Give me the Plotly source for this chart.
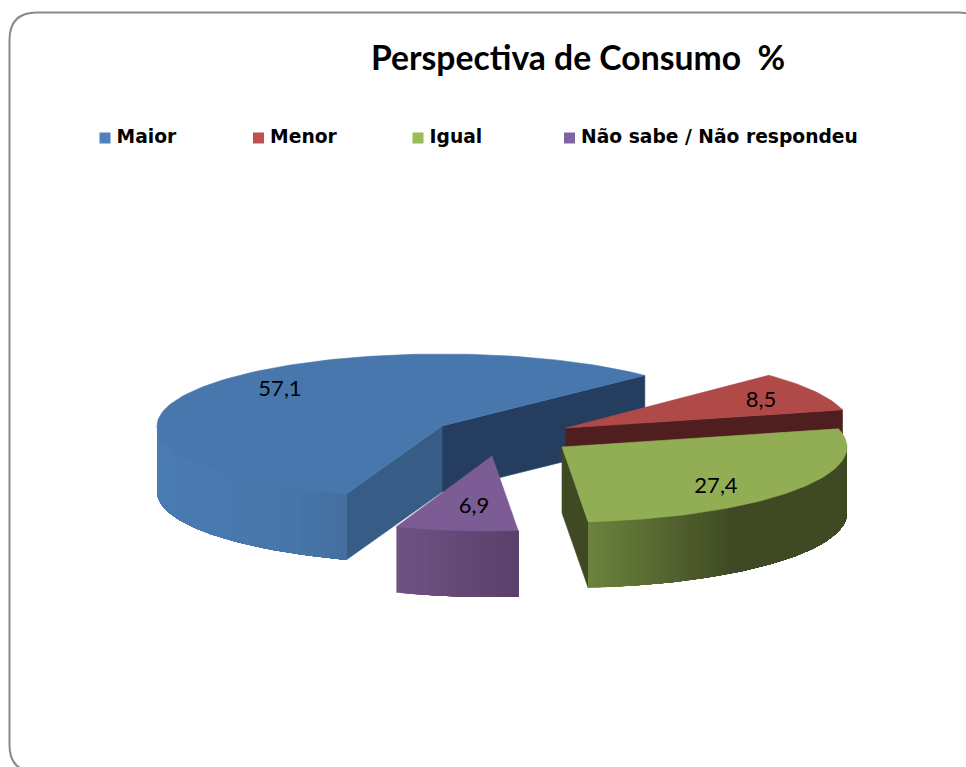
import math
import plotly.graph_objects as go

# ---- data ----
categories = ["Maior", "Menor", "Igual", "Não sabe / Não respondeu"]
values = [57.1, 8.5, 27.4, 6.9]
labels = ["57,1", "8,5", "27,4", "6,9"]
title_text = "Perspectiva de Consumo\u00a0 %"

# ---- projection of the tilted pie (axes run in page pixels) ----
W, H = 966, 767
RX, DEPTH = 285, 66
RY = [72, 75, 75, 75]
START_ANGLE = 250.4                 # where the first slice starts, clockwise
apex = [(442, 426), (566, 428), (562, 447), (492, 456)]   # exploded slice tips
label_offset = [(-162, -36), (195, -27), (154, 40), (-18, 51)]

top_col = ["#4877AE", "#B04A48", "#92AE55", "#7B5C94"]
legend_col = ["#4F81BD", "#C0504D", "#9BBB59", "#8064A2"]
side_stops = [
    [(0, "#4A7BB3"), (0.7, "#4876AB"), (1, "#446E9E")],
    [(0, "#4F1F1F"), (1, "#4F1F1F")],
    [(0, "#6C823C"), (0.55, "#3F4A24"), (1, "#3F4A24")],
    [(0, "#6F5283"), (1, "#59406A")],
]
wall_last_col = ["#253D5E", "#4F1F1F", "#3F4A24", None]  # wall along the slice's last edge
wall_first_col = ["#375C86", None, None, None]           # wall along the slice's first edge
legend_x = [105, 258.5, 418, 569.5]
LEGEND_Y = 138


def hex_rgb(c):
    return tuple(int(c[i:i + 2], 16) for i in (1, 3, 5))


def ramp(stops, t):
    for (t0, c0), (t1, c1) in zip(stops, stops[1:]):
        if t <= t1:
            f = 0 if t1 == t0 else (t - t0) / (t1 - t0)
            a, b = hex_rgb(c0), hex_rgb(c1)
            return "rgb(%d,%d,%d)" % tuple(round(p + (q - p) * f) for p, q in zip(a, b))
    return stops[-1][1]


def point(i, deg, drop=0):
    r = math.radians(deg)
    return apex[i][0] + RX * math.cos(r), apex[i][1] - RY[i] * math.sin(r) + drop


def poly(xs, ys, color, edge=True, name=None):
    fig.add_trace(go.Scatter(
        x=list(xs) + [xs[0]], y=list(ys) + [ys[0]], mode="lines", fill="toself",
        fillcolor=color, line=dict(color=color, width=0.6 if edge else 0),
        hoverinfo="skip", showlegend=False, name=name))


fig = go.Figure()

total = sum(values)
bounds = []
a = START_ANGLE
for v in values:
    b = a - v / total * 360
    bounds.append((a, b))
    a = b

for i, (a0, a1) in enumerate(bounds):
    # flat walls running from the tip to the rim
    for col, deg in ((wall_last_col[i], a1), (wall_first_col[i], a0)):
        if col:
            x0, y0 = apex[i]
            x1, y1 = point(i, deg)
            poly([x0, x1, x1, x0], [y0, y1, y1 + DEPTH, y0 + DEPTH], col)

    # outer rim: only its front part faces the viewer. It is shaded left to right;
    # each band reaches to the rim's right end and the next band paints over it.
    spans = []
    for shift in (-360, 0, 360):
        s, e = max(a1, 180 + shift), min(a0, 360 + shift)
        if e > s:
            spans.append((s, e))
    for s, e in spans:
        n = max(8, int(e - s))
        xl, xr = point(i, e)[0], point(i, s)[0]
        if xl > xr:
            s, e = e, s
            xl, xr = xr, xl
        for k in range(n):
            degs = [e + (s - e) * j / 80 for j in range(int(80 * k / n), 81)]
            rim = [point(i, d) for d in degs]
            xs = [p[0] for p in rim]
            ys = [p[1] for p in rim]
            t = (xs[0] - xl) / (abs(xr - xl) or 1)
            poly(xs + xs[::-1], ys + [y + DEPTH for y in ys[::-1]],
                 ramp(side_stops[i], min(max(t, 0), 1)), edge=False)

    # top face
    m = max(8, int((a0 - a1) / 1.5))
    arc = [point(i, a0 - (a0 - a1) * k / m) for k in range(m + 1)]
    poly([apex[i][0]] + [p[0] for p in arc], [apex[i][1]] + [p[1] for p in arc],
         top_col[i], name=categories[i])

# value labels
fig.add_trace(go.Scatter(
    x=[apex[i][0] + label_offset[i][0] for i in range(4)],
    y=[apex[i][1] + label_offset[i][1] for i in range(4)],
    mode="text", text=labels, textposition="middle center",
    textfont=dict(family="Lato", size=22, color="#000000"),
    hoverinfo="skip", showlegend=False))

# legend row
for i, c in enumerate(categories):
    fig.add_trace(go.Scatter(
        x=[legend_x[i]], y=[LEGEND_Y], mode="markers+text",
        marker=dict(symbol="square", size=11, color=legend_col[i]),
        text=["<b>\u2009" + c + "</b>"], textposition="middle right",
        textfont=dict(family="DejaVu Sans", size=18.7, color="#000000"),
        hoverinfo="skip", showlegend=False))

fig.update_layout(
    width=W, height=H, margin=dict(l=0, r=0, t=0, b=0),
    paper_bgcolor="#FFFFFF", plot_bgcolor="#FFFFFF", showlegend=False,
    title=dict(text="<b>" + title_text + "</b>", x=578 / W, xanchor="center",
               y=1 - 58 / H, yanchor="middle",
               font=dict(family="Lato", size=33.7, color="#000000")),
    xaxis=dict(range=[0, W], visible=False, fixedrange=True),
    yaxis=dict(range=[H, 0], visible=False, fixedrange=True),
    shapes=[dict(
        type="path", xref="x", yref="y", layer="below",
        line=dict(color="#8A8A8A", width=2),
        path="M 9.5 40 Q 9.5 12.5 37 12.5 L 958 12.5 Q 985 12.5 985 40 "
             "L 985 745 Q 985 772 958 772 L 37 772 Q 9.5 772 9.5 745 Z")],
)
fig.write_html(
    "out.html",
    config={"displayModeBar": False},
    post_script="document.body.style.margin='0';document.body.style.overflow='hidden';",
)
